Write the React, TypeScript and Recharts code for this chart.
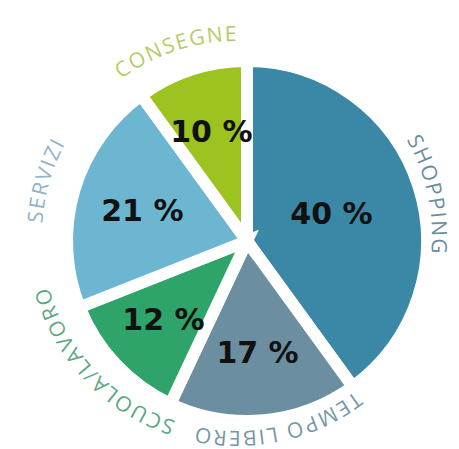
import { PieChart, Pie, Cell } from "recharts"

const categories = ["SHOPPING", "TEMPO LIBERO", "SCUOLA/LAVORO", "SERVIZI", "CONSEGNE"]
const shares = [40, 17, 12, 21, 10]

const sliceColors = ["#3a87a6", "#6b8fa0", "#2fa46a", "#6db6d1", "#9cc320"]
const nameColors = ["#6a8ea0", "#7597a8", "#58a882", "#8fb3c7", "#b5cc66"]

const data = categories.map((name, i) => ({ name, value: shares[i] }))

const RAD = Math.PI / 180

// small hand-tuned turns for names that sit off their slice's middle
const nameTurn: Record<number, number> = { 0: -6, 1: 7 }

const renderLabel = (props: any) => {
  const { cx, cy, midAngle, percent, index, value } = props
  // percentage sits near the centroid of the slice
  const half = percent * Math.PI
  const r = ((2 / 3) * 176 * Math.sin(half)) / half
  const px = cx + r * Math.cos(-midAngle * RAD)
  const py = cy + r * Math.sin(-midAngle * RAD)

  // name runs clockwise along a circle around the pie
  const lx = cx - 10
  const ly = cy - 5
  const R = 195
  const mid = midAngle + (nameTurn[index] || 0)
  const a1 = mid + 80
  const a2 = mid - 80
  const x1 = lx + R * Math.cos(-a1 * RAD)
  const y1 = ly + R * Math.sin(-a1 * RAD)
  const x2 = lx + R * Math.cos(-a2 * RAD)
  const y2 = ly + R * Math.sin(-a2 * RAD)
  const id = `arc-${index}`

  return (
    <g>
      <path id={id} d={`M ${x1} ${y1} A ${R} ${R} 0 0 1 ${x2} ${y2}`} fill="none" stroke="none" />
      <text
        fontFamily="'Open Sans', sans-serif"
        fontSize={21}
        letterSpacing={1.8}
        fill={nameColors[index]}
      >
        <textPath href={`#${id}`} startOffset="50%" textAnchor="middle">
          {categories[index]}
        </textPath>
      </text>
      <text
        x={px}
        y={py}
        textAnchor="middle"
        dominantBaseline="central"
        fontFamily="'DejaVu Sans', sans-serif"
        fontWeight="bold"
        fontSize={30}
        fill="#111"
      >
        {`${value} %`}
      </text>
    </g>
  )
}

export default function App() {
  return (
    <div style={{ position: "absolute", left: 0, top: 0, width: 459, height: 449, background: "#fff", overflow: "hidden" }}>
      <PieChart width={459} height={449}>
        <Pie
          data={data}
          dataKey="value"
          nameKey="name"
          cx={242}
          cy={236}
          outerRadius={180}
          startAngle={90}
          endAngle={-270}
          stroke="#ffffff"
          strokeWidth={12}
          label={renderLabel}
          labelLine={false}
          isAnimationActive={false}
        >
          {data.map((entry, index) => (
            <Cell key={`cell-${index}`} fill={sliceColors[index]} />
          ))}
        </Pie>
      </PieChart>
    </div>
  )
}
